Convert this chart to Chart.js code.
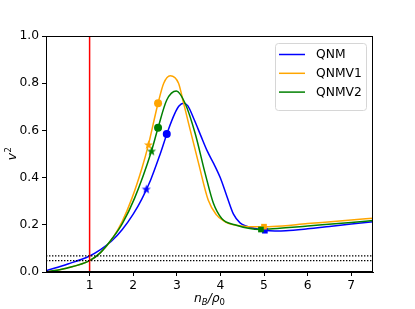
<!DOCTYPE html>
<html>
<head>
<meta charset="utf-8">
<script src="https://cdn.jsdelivr.net/npm/chart.js@4"></script>
<style>
  html, body { margin: 0; padding: 0; background: #fff; }
</style>
</head>
<body>
<canvas id="chart" width="415" height="309"></canvas>
<script>
// values
const qnmX = [0, 0.5, 1.0, 1.25, 1.5, 1.75, 2.0, 2.2, 2.4, 2.6, 2.8, 2.95, 3.05, 3.15, 3.25, 3.4, 3.55, 3.7, 3.85, 4.0, 4.15, 4.3, 4.45, 4.6, 4.8, 5.0, 5.25, 5.5, 6.0, 6.5, 7.0, 7.5];
const qnmY = [0.005, 0.034, 0.068, 0.095, 0.13, 0.18, 0.245, 0.31, 0.39, 0.49, 0.6, 0.67, 0.703, 0.715, 0.705, 0.645, 0.578, 0.512, 0.458, 0.398, 0.32, 0.245, 0.208, 0.194, 0.184, 0.177, 0.174, 0.175, 0.183, 0.193, 0.203, 0.213];

const qnmv1X = [0, 0.47, 1.0, 1.25, 1.54, 1.75, 1.97, 2.2, 2.35, 2.57, 2.7, 2.85, 3.04, 3.15, 3.27, 3.5, 3.72, 3.91, 4.05, 4.18, 4.4, 4.64, 5.0, 5.2, 6.0, 7.0, 7.5];
const qnmv1Y = [0, 0.016, 0.048, 0.082, 0.147, 0.215, 0.312, 0.44, 0.54, 0.715, 0.8, 0.832, 0.8, 0.72, 0.63, 0.46, 0.305, 0.242, 0.22, 0.206, 0.197, 0.192, 0.192, 0.193, 0.205, 0.22, 0.228];

const qnmv2X = [0, 0.47, 1.0, 1.25, 1.54, 1.75, 2.03, 2.42, 2.57, 2.77, 2.99, 3.19, 3.42, 3.65, 3.84, 4.03, 4.33, 4.93, 5.2, 6.0, 7.0, 7.5];
const qnmv2Y = [0, 0.016, 0.048, 0.082, 0.147, 0.205, 0.312, 0.513, 0.611, 0.729, 0.767, 0.715, 0.588, 0.418, 0.291, 0.227, 0.2, 0.18, 0.183, 0.195, 0.21, 0.218];

// marked points: star, circle, square
const qnmMarkX = [2.3, 2.77, 5.02];
const qnmMarkY = [0.352, 0.585, 0.175];
const qnmv1MarkX = [2.35, 2.57, 5.0];
const qnmv1MarkY = [0.54, 0.715, 0.192];
const qnmv2MarkX = [2.42, 2.57, 4.93];
const qnmv2MarkY = [0.513, 0.611, 0.18];

const refLineX = [1, 1];
const refLineY = [0, 1];
const dotLevels = [0.068, 0.048];
const dotSpanX = [0, 7.5];

const xTicks = [1, 2, 3, 4, 5, 6, 7];
const yTicks = [0, 0.2, 0.4, 0.6, 0.8, 1.0];

const zip = (xs, ys) => xs.map((x, i) => ({ x: x, y: ys[i] }));

function starImage(color) {
  const c = document.createElement('canvas');
  c.width = 11; c.height = 11;
  const g = c.getContext('2d');
  g.fillStyle = color;
  g.beginPath();
  for (let i = 0; i < 10; i++) {
    const r = i % 2 ? 2.0 : 4.8;
    const a = -Math.PI / 2 + i * Math.PI / 5;
    g.lineTo(5.5 + r * Math.cos(a), 6 + r * Math.sin(a));
  }
  g.closePath();
  g.fill();
  return c;
}

const FONT = 'DejaVu Sans';
const FS = 12.3;

function curve(label, xs, ys, color, order) {
  return {
    label: label, data: zip(xs, ys), showLine: true, isSeries: true,
    borderColor: color, backgroundColor: color, borderWidth: 1.5,
    pointRadius: 0, cubicInterpolationMode: 'monotone', order: order,
  };
}

function marks(xs, ys, color, order) {
  return {
    label: '', data: zip(xs, ys), showLine: false,
    pointStyle: [starImage(color), 'circle', 'rect'],
    pointRadius: [5, 4, 4], borderWidth: 0,
    backgroundColor: color, borderColor: color, order: order,
  };
}

const frame = {
  id: 'frame',
  afterDraw(chart) {
    const { ctx, chartArea: a } = chart;
    ctx.save();
    ctx.strokeStyle = '#000';
    ctx.lineWidth = 1;
    ctx.strokeRect(Math.round(a.left) + 0.5, Math.round(a.top) + 0.5,
      Math.round(a.right - a.left) - 1, Math.round(a.bottom - a.top) - 1);
    ctx.restore();
  }
};

const titles = {
  id: 'titles',
  afterDraw(chart) {
    const { ctx, chartArea: a } = chart;
    ctx.save();
    ctx.fillStyle = '#000';
    ctx.textBaseline = 'alphabetic';
    // x title: n_B / rho_0
    const big = 'italic ' + FS + 'px ' + FONT;
    const parts = [
      ['n', big, 0],
      ['B', 'italic 8.5px ' + FONT, 2.5],
      ['/', big, 0],
      ['ρ', big, 0],
      ['0', '8.5px ' + FONT, 2.5],
    ];
    let w = 0;
    parts.forEach(p => { ctx.font = p[1]; w += ctx.measureText(p[0]).width; });
    let x = (a.left + a.right) / 2 - w / 2;
    parts.forEach(p => {
      ctx.font = p[1];
      ctx.fillText(p[0], x, 302 + p[2]);
      x += ctx.measureText(p[0]).width;
    });
    // y title: v^2
    ctx.translate(16, (a.top + a.bottom) / 2);
    ctx.rotate(-Math.PI / 2);
    ctx.font = big;
    const vw = ctx.measureText('v').width;
    ctx.font = '8.5px ' + FONT;
    const sw = ctx.measureText('2').width;
    ctx.font = big;
    ctx.fillText('v', -(vw + sw) / 2, 0);
    ctx.font = '8.5px ' + FONT;
    ctx.fillText('2', -(vw + sw) / 2 + vw + 0.5, -5.5);
    ctx.restore();
  }
};

const legendBox = {
  id: 'legendBox',
  afterDraw(chart) {
    const { ctx } = chart;
    const items = chart.data.datasets.filter(d => d.isSeries);
    ctx.save();
    const bx = 275.5, by = 43.5, bw = 91, bh = 67, r = 3;
    ctx.beginPath();
    ctx.roundRect(bx, by, bw, bh, r);
    ctx.fillStyle = 'rgba(255,255,255,0.8)';
    ctx.fill();
    ctx.strokeStyle = '#d6d6d6';
    ctx.lineWidth = 1;
    ctx.stroke();
    ctx.font = FS + 'px ' + FONT;
    ctx.textBaseline = 'middle';
    items.forEach((d, i) => {
      const y = 54.5 + i * 18.8;
      ctx.strokeStyle = d.borderColor;
      ctx.lineWidth = 1.5;
      ctx.beginPath();
      ctx.moveTo(279, y);
      ctx.lineTo(305, y);
      ctx.stroke();
      ctx.fillStyle = '#000';
      ctx.fillText(d.label, 316, y + 0.5);
    });
    ctx.restore();
  }
};

const datasets = [
  curve('QNM', qnmX, qnmY, '#0000ff', 6),
  curve('QNMV1', qnmv1X, qnmv1Y, '#ffa500', 5),
  curve('QNMV2', qnmv2X, qnmv2Y, '#008000', 4),
  marks(qnmMarkX, qnmMarkY, '#0000ff', 3),
  marks(qnmv1MarkX, qnmv1MarkY, '#ffa500', 2.5),
  marks(qnmv2MarkX, qnmv2MarkY, '#008000', 2),
  {
    label: '', data: zip(refLineX, refLineY), showLine: true, pointRadius: 0,
    borderColor: '#ff0000', borderWidth: 1.5, order: 1,
  },
].concat(dotLevels.map(v => ({
  label: '', data: zip(dotSpanX, [v, v]), showLine: true, pointRadius: 0,
  borderColor: '#000', borderWidth: 1.3, borderDash: [1.4, 1.6], order: 0,
})));

new Chart(document.getElementById('chart'), {
  type: 'scatter',
  data: { datasets: datasets },
  options: {
    responsive: false,
    animation: false,
    layout: { padding: { top: 36, right: 42, left: 0, bottom: 0 } },
    scales: {
      x: {
        type: 'linear', min: 0, max: 7.5,
        afterBuildTicks: s => { s.ticks = xTicks.map(v => ({ value: v })); },
        afterFit: s => { s.height = 37; },
        grid: { drawOnChartArea: false, color: '#000', tickLength: 4 },
        border: { color: '#000' },
        ticks: { color: '#000', padding: 2, font: { family: FONT, size: FS }, maxRotation: 0 },
      },
      y: {
        type: 'linear', min: 0, max: 1,
        afterBuildTicks: s => { s.ticks = yTicks.map(v => ({ value: v })); },
        afterFit: s => { s.width = 46; },
        grid: { drawOnChartArea: false, color: '#000', tickLength: 4 },
        border: { color: '#000' },
        ticks: {
          color: '#000', padding: 3, font: { family: FONT, size: FS },
          callback: v => Number(v).toFixed(1),
        },
      },
    },
    plugins: {
      legend: { display: false },
      tooltip: { enabled: false },
    },
  },
  plugins: [frame, titles, legendBox],
});
</script>
</body>
</html>
